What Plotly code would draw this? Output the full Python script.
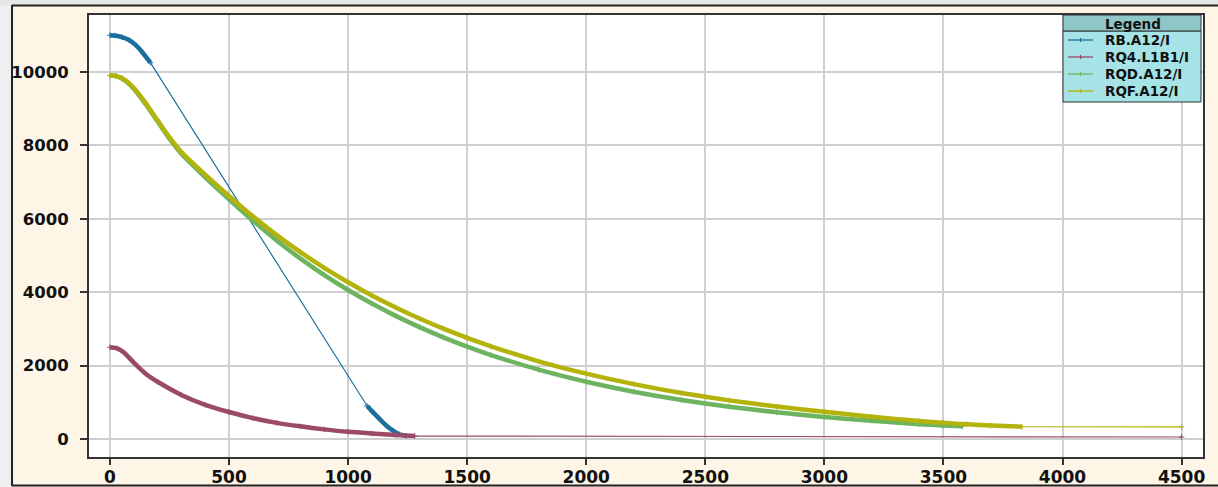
import plotly.graph_objects as go

# ---------------- data ----------------
rb_x = [0, 20, 50, 80, 110, 140, 170, 1080, 1100, 1130, 1160, 1190, 1215, 1245]
rb_y = [11000, 10990, 10950, 10870, 10720, 10500, 10250, 900, 760, 560, 370, 220, 130, 85]

rq4_x = [0, 30, 60, 100, 150, 200, 300, 400, 500, 600, 700, 800, 900, 1000, 1100, 1200, 1280, 4500]
rq4_y = [2500, 2470, 2350, 2080, 1780, 1560, 1200, 930, 735, 570, 440, 345, 262, 195, 150, 110, 80, 55]

rqd_x = [0, 25, 50, 75, 100, 150, 200, 250, 300, 400, 500, 600, 700, 800, 900, 1000, 1100,
         1200, 1300, 1400, 1500, 1600, 1800, 2000, 2200, 2400, 2600, 2800, 3000, 3200, 3400,
         3500, 3580]
rqd_y = [9900, 9885, 9820, 9705, 9540, 9120, 8650, 8180, 7770, 7130, 6530, 5950, 5410, 4915,
         4467, 4060, 3690, 3354, 3048, 2770, 2518, 2288, 1890, 1561, 1289, 1065, 880, 727,
         600, 496, 405, 365, 345]

rqf_x = [0, 25, 50, 75, 100, 150, 200, 250, 300, 400, 500, 600, 700, 800, 900, 1000, 1100,
         1200, 1300, 1400, 1500, 1600, 1800, 2000, 2200, 2400, 2600, 2800, 3000, 3200, 3400,
         3500, 3600, 3700, 3830, 4500]
rqf_y = [9900, 9890, 9830, 9720, 9560, 9150, 8680, 8220, 7820, 7200, 6620, 6065, 5555, 5089,
         4662, 4270, 3911, 3583, 3282, 3006, 2754, 2523, 2117, 1780, 1494, 1253, 1052, 883,
         741, 605, 492, 440, 400, 368, 335, 330]

names = ["RB.A12/I", "RQ4.L1B1/I", "RQD.A12/I", "RQF.A12/I"]
colors = ["#1b6f9e", "#9a4a68", "#6cb460", "#b3b30c"]
series = [(rb_x, rb_y), (rq4_x, rq4_y), (rqd_x, rqd_y), (rqf_x, rqf_y)]
# index ranges that are densely sampled in the source (drawn thick)
thick = [[(0, 7), (7, 14)], [(0, 17)], [(0, 33)], [(0, 35)]]

fig = go.Figure()
for (xs, ys), name, col, segs in zip(series, names, colors, thick):
    fig.add_trace(go.Scatter(
        x=xs, y=ys, name=name, mode="lines+markers", legendgroup=name, showlegend=False,
        line=dict(color=col, width=1.2),
        marker=dict(symbol="cross-thin", size=4, color=col, line=dict(color=col, width=1)),
    ))
    for a, b in segs:
        fig.add_trace(go.Scatter(
            x=xs[a:b], y=ys[a:b], mode="lines", legendgroup=name, showlegend=False,
            line=dict(color=col, width=4.5, shape="spline", smoothing=0.6), hoverinfo="skip",
        ))

L, R, T, B = 89, 15, 15, 30
W, H = 1218, 487
pw, ph = W - L - R, H - T - B


def px(x):
    return (x - L) / pw


def py(y):
    return (H - B - y) / ph


shapes = [
    # page edge (grey) outside the panel
    dict(type="rect", xref="paper", yref="paper", x0=px(0), x1=px(11.5), y0=py(H), y1=py(0),
         fillcolor="#efefef", line=dict(width=0), layer="above"),
    dict(type="rect", xref="paper", yref="paper", x0=px(0), x1=px(W), y0=py(5), y1=py(0),
         fillcolor="#e6e6e6", line=dict(width=0), layer="above"),
    # panel border
    dict(type="line", xref="paper", yref="paper", x0=px(12), x1=px(12), y0=py(486), y1=py(5),
         line=dict(color="#222", width=2), layer="above"),
    dict(type="line", xref="paper", yref="paper", x0=px(12), x1=px(W), y0=py(5.5), y1=py(5.5),
         line=dict(color="#222", width=2), layer="above"),
    dict(type="line", xref="paper", yref="paper", x0=px(12), x1=px(W), y0=py(485.5), y1=py(485.5),
         line=dict(color="#222", width=2), layer="above"),
    # legend boxes
    dict(type="rect", xref="paper", yref="paper", x0=px(1063), x1=px(1201), y0=py(102), y1=py(31),
         fillcolor="#a6e3e6", line=dict(color="#333", width=1), layer="above"),
    dict(type="rect", xref="paper", yref="paper", x0=px(1063), x1=px(1201), y0=py(31), y1=py(15),
         fillcolor="#8fc6c7", line=dict(color="#333", width=1), layer="above"),
]

annotations = [dict(text="<b>Legend</b>", xref="paper", yref="paper", x=px(1133), y=py(23.5),
                    xanchor="center", yanchor="middle", showarrow=False,
                    font=dict(size=13.5, family="DejaVu Sans", color="#111"))]
row_y = [40, 57, 74, 91]
for name, col, ry in zip(names, colors, row_y):
    shapes.append(dict(type="line", xref="paper", yref="paper", x0=px(1068), x1=px(1093),
                       y0=py(ry), y1=py(ry), line=dict(color=col, width=1.3), layer="above"))
    shapes.append(dict(type="line", xref="paper", yref="paper", x0=px(1080.5), x1=px(1080.5),
                       y0=py(ry + 2), y1=py(ry - 2), line=dict(color=col, width=1.3), layer="above"))
    annotations.append(dict(text="<b>" + name + "</b>", xref="paper", yref="paper",
                            x=px(1103), y=py(ry), xanchor="left", yanchor="middle",
                            showarrow=False,
                            font=dict(size=13.5, family="DejaVu Sans", color="#111")))

fig.update_layout(
    width=W, height=H,
    margin=dict(l=L, r=R, t=T, b=B, pad=0, autoexpand=False),
    paper_bgcolor="#fdf5e6", plot_bgcolor="#ffffff",
    font=dict(family="DejaVu Sans", color="#111"),
    showlegend=False,
    shapes=shapes,
    annotations=annotations,
    hovermode=False,
)
axis_common = dict(showgrid=True, gridcolor="#cfcfcf", gridwidth=1.5, zeroline=False,
                   showline=True, mirror=True, linecolor="#333", linewidth=2,
                   ticks="outside", tickwidth=1.5, tickcolor="#333", automargin=False)
fig.update_xaxes(range=[-88, 4590], tickvals=[0, 500, 1000, 1500, 2000, 2500, 3000, 3500, 4000, 4500],
                 ticklen=6, ticklabelstandoff=-2,
                 tickfont=dict(size=17, family="DejaVu Sans", weight="bold", color="#111"),
                 **axis_common)
fig.update_yaxes(range=[-490, 11550], tickvals=[0, 2000, 4000, 6000, 8000, 10000], tickformat="d",
                 ticklen=7, ticklabelstandoff=8,
                 tickfont=dict(size=16.5, family="DejaVu Sans", weight="bold", color="#111"),
                 **axis_common)

fig.write_html("out.html", config={"displayModeBar": False},
               post_script="document.body.style.margin='0';")
